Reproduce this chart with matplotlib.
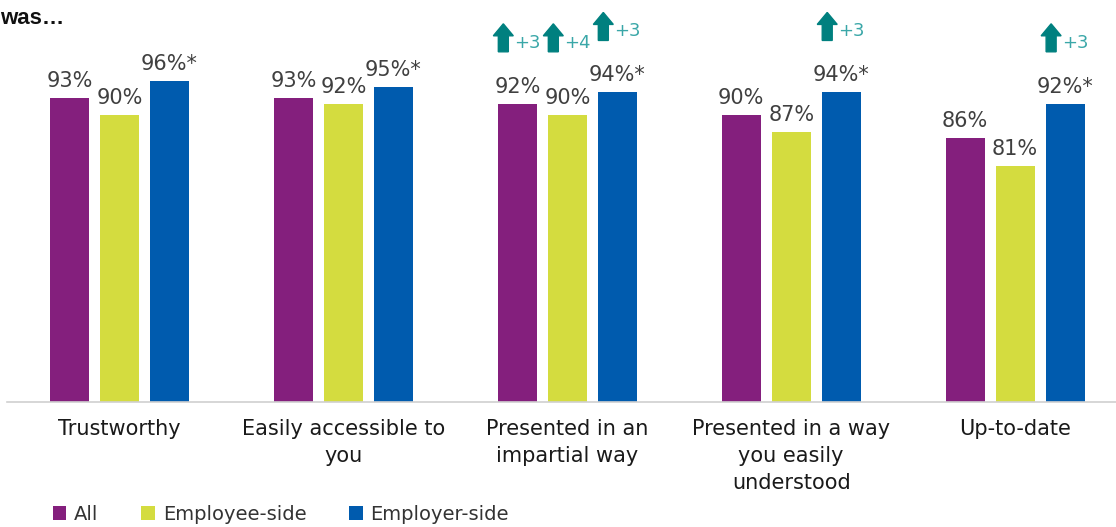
import matplotlib
matplotlib.use("Agg")
import matplotlib.pyplot as plt
import matplotlib.transforms as mtransforms
from matplotlib.patches import Patch, Polygon
import numpy as np

# ---- data ----
categories = [
    "Trustworthy",
    "Easily accessible to\nyou",
    "Presented in an\nimpartial way",
    "Presented in a way\nyou easily\nunderstood",
    "Up-to-date",
]
series_names = ["All", "Employee-side", "Employer-side"]
all_vals = [93, 93, 92, 90, 86]
employee_vals = [90, 92, 90, 87, 81]
employer_vals = [96, 95, 94, 94, 92]
# significance marker shown after the label
employer_marks = ["*", "*", "*", "*", "*"]
# change since previous wave (None = no significant change)
all_change = [None, None, 3, None, None]
employee_change = [None, None, 4, None, None]
employer_change = [None, None, 3, 3, 3]

colors = ["#841F7D", "#D4DC3F", "#005BAE"]
label_color = "#404040"
arrow_color = "#00807F"
change_color = "#3AA7A8"

plt.rcParams["font.family"] = ["DejaVu Sans"]

W, H, DPI = 1116, 527, 100
fig = plt.figure(figsize=(W / DPI, H / DPI), dpi=DPI)

ax_left, ax_bottom_px = 7, 402
ax = fig.add_axes([ax_left / W, 1 - ax_bottom_px / H, (W - ax_left) / W, ax_bottom_px / H])

px_per_unit = 5.68
ymin = 39.5
ax.set_ylim(ymin, ymin + ax_bottom_px / px_per_unit)
ax.set_xlim(-0.5025, 4.4505)

x = np.arange(len(categories))
width = 0.174
step = 0.2233

series = [all_vals, employee_vals, employer_vals]
marks = [[""] * 5, [""] * 5, employer_marks]
changes = [all_change, employee_change, employer_change]

for i, (vals, col) in enumerate(zip(series, colors)):
    xs = x + (i - 1) * step
    ax.bar(xs, vals, width=width, color=col, bottom=0, zorder=2)
    for xi, v, m in zip(xs, vals, marks[i]):
        ax.annotate(f"{v}%{m}", (xi, v), xytext=(0, 5), textcoords="offset points",
                    ha="center", va="bottom", fontsize=15, color=label_color)

# change arrows with "+n" labels
def draw_change(xc, level, delta):
    pix = 1.0 / DPI
    trans = fig.dpi_scale_trans + mtransforms.ScaledTranslation(xc, level, ax.transData)
    cx = -14 * pix
    base = 52 * pix
    hw, sw, hh, tot = 10 * pix, 5 * pix, 12 * pix, 28 * pix
    verts = [
        (cx - sw, base), (cx + sw, base), (cx + sw, base + tot - hh),
        (cx + hw, base + tot - hh), (cx, base + tot), (cx - hw, base + tot - hh),
        (cx - sw, base + tot - hh),
    ]
    ax.add_patch(Polygon(verts, closed=True, transform=trans, color=arrow_color,
                         clip_on=False, zorder=3))
    ax.text(cx + hw + 1 * pix, base + 9 * pix, f"+{delta}", transform=trans,
            ha="left", va="center", fontsize=13, color=change_color, clip_on=False)

for g in range(len(categories)):
    for i in range(3):
        d = changes[i][g]
        if d is None:
            continue
        level = max(series[k][g] for k in range(i + 1))
        draw_change(x[g] + (i - 1) * step, level, d)

# axes styling
for s in ["top", "right", "left"]:
    ax.spines[s].set_visible(False)
ax.spines["bottom"].set_color("#D0D0D0")
ax.spines["bottom"].set_linewidth(1.2)
ax.set_yticks([])
ax.set_xticks(x)
ax.set_xticklabels(categories, fontsize=15, color="#1a1a1a", linespacing=1.45)
ax.tick_params(axis="x", length=0, pad=12)
for lbl in ax.get_xticklabels():
    lbl.set_verticalalignment("top")

# heading fragment at the top left
fig.text(0.0, 1 - 18 / H, "was\u2026", fontsize=16, fontweight="bold",
         family=["Liberation Sans", "DejaVu Sans"], ha="left", va="center", color="#111111")

handles = [Patch(facecolor=c, edgecolor="none") for c in colors]
fig.legend(handles, series_names, loc="center left", bbox_to_anchor=(45 / W, 1 - 514 / H),
           ncol=3, frameon=False, fontsize=14, handlelength=0.7, handleheight=0.7,
           handletextpad=0.4, columnspacing=2.2, labelcolor="#333333", borderaxespad=0)

fig.savefig("out.png", dpi=DPI)
